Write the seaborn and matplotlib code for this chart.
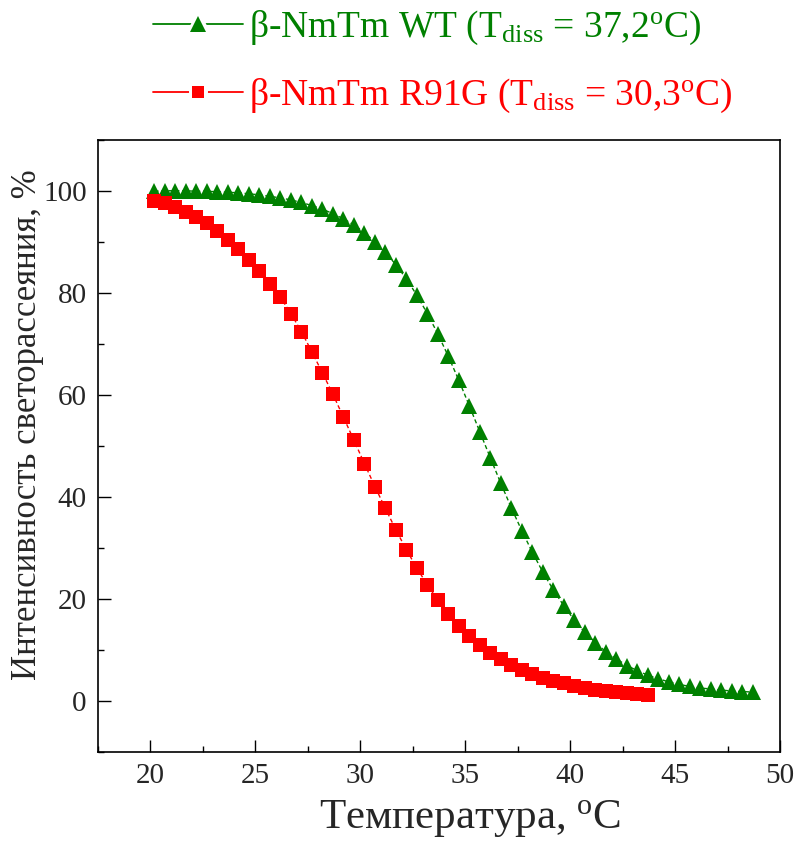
import numpy as np
import pandas as pd
import matplotlib
matplotlib.use("Agg")
import matplotlib.pyplot as plt
from matplotlib.ticker import MultipleLocator
from matplotlib.lines import Line2D
from matplotlib.legend_handler import HandlerTuple
import seaborn as sns

# температура, °C
t_wt = [20.2, 20.7, 21.2, 21.7, 22.2, 22.7, 23.2, 23.7, 24.2, 24.7,
        25.2, 25.7, 26.2, 26.7, 27.2, 27.7, 28.2, 28.7, 29.2, 29.7,
        30.2, 30.7, 31.2, 31.7, 32.2, 32.7, 33.2, 33.7, 34.2, 34.7,
        35.2, 35.7, 36.2, 36.7, 37.2, 37.7, 38.2, 38.7, 39.2, 39.7,
        40.2, 40.7, 41.2, 41.7, 42.2, 42.7, 43.2, 43.7, 44.2, 44.7,
        45.2, 45.7, 46.2, 46.7, 47.2, 47.7, 48.2, 48.7]
i_wt = [100.0, 100.1, 100.1, 100.1, 100.0, 100.0, 99.9, 99.8, 99.7, 99.5,
        99.3, 99.0, 98.7, 98.3, 97.8, 97.2, 96.5, 95.6, 94.6, 93.4,
        91.9, 90.1, 88.0, 85.6, 82.8, 79.6, 76.0, 72.0, 67.6, 62.9,
        57.9, 52.8, 47.7, 42.7, 37.9, 33.4, 29.2, 25.3, 21.8, 18.7,
        15.9, 13.5, 11.5, 9.7, 8.3, 7.0, 6.0, 5.1, 4.4, 3.8,
        3.3, 2.9, 2.6, 2.4, 2.2, 2.0, 1.9, 1.8]

t_mut = [20.2, 20.7, 21.2, 21.7, 22.2, 22.7, 23.2, 23.7, 24.2, 24.7,
         25.2, 25.7, 26.2, 26.7, 27.2, 27.7, 28.2, 28.7, 29.2, 29.7,
         30.2, 30.7, 31.2, 31.7, 32.2, 32.7, 33.2, 33.7, 34.2, 34.7,
         35.2, 35.7, 36.2, 36.7, 37.2, 37.7, 38.2, 38.7, 39.2, 39.7,
         40.2, 40.7, 41.2, 41.7, 42.2, 42.7, 43.2, 43.7]
i_mut = [98.0, 97.6, 97.0, 96.0, 95.0, 93.8, 92.3, 90.5, 88.6, 86.5,
         84.3, 81.9, 79.2, 76.0, 72.5, 68.5, 64.4, 60.2, 55.7, 51.2,
         46.6, 42.1, 37.8, 33.6, 29.7, 26.1, 22.8, 19.8, 17.2, 14.8,
         12.8, 11.0, 9.5, 8.2, 7.1, 6.1, 5.3, 4.6, 4.0, 3.5,
         3.0, 2.6, 2.3, 2.0, 1.8, 1.6, 1.4, 1.2]

lbl_wt = r"β-NmTm WT (T$_{\rm diss}$ = 37,2$^{\rm o}$C)"
lbl_mut = r"β-NmTm R91G (T$_{\rm diss}$ = 30,3$^{\rm o}$C)"
c_wt = '#008000'
c_mut = '#ff0000'

sns.set_theme(style="ticks")
plt.rcParams['font.family'] = ['Liberation Serif', 'DejaVu Serif']
plt.rcParams['mathtext.fontset'] = 'custom'
plt.rcParams['mathtext.rm'] = 'Liberation Serif'
plt.rcParams['mathtext.it'] = 'Liberation Serif:italic'

df_wt = pd.DataFrame({'T': t_wt, 'I': i_wt})
df_mut = pd.DataFrame({'T': t_mut, 'I': i_mut})

fig = plt.figure(figsize=(8.01, 8.5), dpi=100)
ax = fig.add_axes([0.122, 0.115, 0.852, 0.72])

sns.lineplot(data=df_wt, x='T', y='I', ax=ax, color=c_wt, lw=1.0,
             linestyle=(0, (3, 2)), marker='^', markersize=11,
             markeredgewidth=0)
sns.lineplot(data=df_mut, x='T', y='I', ax=ax, color=c_mut, lw=1.0,
             linestyle=(0, (3, 2)), marker='s', markersize=10,
             markeredgewidth=0)

ax.set_xlim(17.5, 50)
ax.set_ylim(-10, 110)
ax.xaxis.set_major_locator(MultipleLocator(5))
ax.xaxis.set_minor_locator(MultipleLocator(2.5))
ax.yaxis.set_major_locator(MultipleLocator(20))
ax.yaxis.set_minor_locator(MultipleLocator(10))
ax.tick_params(which='both', direction='in', top=False, right=False,
               labelsize=21, width=1, color='black', pad=8)
ax.tick_params(which='major', length=9)
ax.tick_params(which='minor', length=4.5)
for s in ax.spines.values():
    s.set_linewidth(1.2)
    s.set_color('black')

ax.set_xlabel(r"Температура, $^{\rm o}$C", fontsize=31)
ax.set_ylabel("Интенсивность светорассеяния, %", fontsize=25)
ax.xaxis.set_label_coords(0.545, -0.075)
ax.yaxis.set_label_coords(-0.078, 0.535)

def leg_handle(color, marker, size):
    ln = Line2D([], [], color=color, lw=1.3)
    mk = Line2D([], [], color=color, marker=marker, markersize=size,
                markeredgecolor='white', markeredgewidth=5, linestyle='none')
    mk2 = Line2D([], [], color=color, marker=marker, markersize=size,
                 markeredgewidth=0, linestyle='none')
    return (ln, mk, mk2)

handles = [leg_handle(c_wt, '^', 11), leg_handle(c_mut, 's', 9)]
fig.legend(handles, [lbl_wt, lbl_mut], loc='upper left',
           bbox_to_anchor=(0.168, 1.012), frameon=False, fontsize=27,
           handlelength=2.4, handletextpad=0.15, labelspacing=0.8,
           borderpad=0, labelcolor=[c_wt, c_mut],
           handler_map={tuple: HandlerTuple(ndivide=1, pad=0)})

fig.savefig('out.png', dpi=100)
